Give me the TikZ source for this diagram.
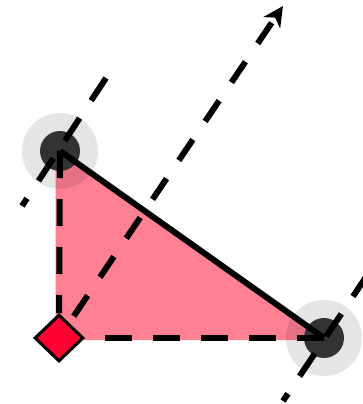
\documentclass[tikz,border=0pt]{standalone}
\usetikzlibrary{arrows.meta,shapes.geometric}
\definecolor{pinkfill}{RGB}{255,128,147}
\definecolor{redd}{RGB}{255,0,51}
\definecolor{darkdot}{RGB}{51,51,51}
\pgfdeclarelayer{fg}
\pgfsetlayers{main,fg}
\begin{document}
\begin{tikzpicture}[x=1pt,y=-1pt,
  dashline/.style={line width=6pt, dash pattern=on 27pt off 21pt},
  halo/.style={circle, fill=black, fill opacity=0.1, minimum size=76pt, inner sep=0pt},
  dot/.style={circle, fill=darkdot, minimum size=40pt, inner sep=0pt},
  marker/.style={diamond, draw=black, fill=redd, line width=3pt, minimum width=49pt, minimum height=47pt, inner sep=0pt},
]
\useasboundingbox (0,0) rectangle (362,404);
\fill[pinkfill] (55.5,151) -- (326,340) -- (55.5,340) -- cycle;
\node[halo] (ha) at (60,151) {};
\node[halo] (hb) at (324,338) {};
\node[dot] (A) at (60,151) {};
\node[dot] (B) at (324,338) {};
\begin{pgfonlayer}{fg}
\node[marker] (D) at (59,338) {};
\end{pgfonlayer}
\coordinate (ta) at (106,78);
\coordinate (tb) at (22,206);
\coordinate (rc) at (368,274);
\coordinate (rd) at (283,401);
\coordinate (tip) at (283,6);
\draw[dashline] (ta) -- (tb);
\draw[dashline] (rc) -- (rd);
\draw[dashline] (A.center) -- (D);
\draw[dashline] (B.center) -- (D);
\draw[line width=6pt] (A.center) -- (B.center);
\draw[line width=6pt, dash pattern=on 25pt off 22pt, dash phase=39pt,
  -{Stealth[length=20pt,width=20pt,inset=6pt]}] (D) -- (tip);
\end{tikzpicture}
\end{document}
